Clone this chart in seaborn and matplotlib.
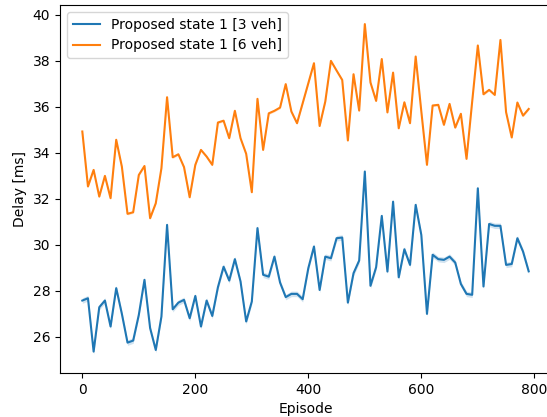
import numpy as np
import pandas as pd
import matplotlib
matplotlib.use("Agg")
import matplotlib.pyplot as plt
import seaborn as sns

episodes = list(range(0, 800, 10))

delay_3veh = [
    27.58, 27.68, 25.36, 27.29, 27.58, 26.45, 28.12, 27.00, 25.75, 25.84,
    26.96, 28.48, 26.38, 25.43, 26.88, 30.87, 27.20, 27.49, 27.61, 26.81,
    27.78, 26.45, 27.58, 26.91, 28.16, 29.05, 28.45, 29.38, 28.41, 26.67,
    27.54, 30.73, 28.70, 28.62, 29.49, 28.36, 27.73, 27.87, 27.87, 27.64,
    28.99, 29.93, 28.04, 29.49, 29.42, 30.29, 30.32, 27.49, 28.77, 29.32,
    33.19, 28.22, 29.03, 31.26, 28.84, 31.88, 28.59, 29.81, 29.13, 31.74,
    30.43, 27.00, 29.57, 29.38, 29.35, 29.49, 29.23, 28.30, 27.87, 27.83,
    32.46, 28.19, 30.91, 30.83, 30.83, 29.13, 29.17, 30.29, 29.71, 28.85,
]

delay_6veh = [
    34.93, 32.54, 33.26, 32.10, 33.00, 32.03, 34.57, 33.40, 31.35, 31.42,
    33.04, 33.43, 31.16, 31.81, 33.33, 36.42, 33.81, 33.94, 33.38, 32.07,
    33.48, 34.13, 33.84, 33.48, 35.32, 35.40, 34.64, 35.83, 34.64, 33.96,
    32.29, 36.35, 34.13, 35.72, 35.83, 35.97, 36.99, 35.80, 35.29, 36.16,
    37.03, 37.90, 35.17, 36.23, 38.00, 37.58, 37.17, 34.54, 37.42, 35.84,
    39.60, 37.06, 36.26, 38.08, 35.76, 37.49, 35.07, 36.20, 35.29, 38.19,
    35.80, 33.48, 36.06, 36.09, 35.22, 36.13, 35.10, 35.70, 33.74, 36.23,
    38.67, 36.55, 36.74, 36.52, 38.91, 35.77, 34.67, 36.19, 35.62, 35.91,
]

# half-width of the shaded spread around each curve
spread_3veh = 0.12
spread_6veh = 0.05

labels = ["Proposed state 1 [3 veh]", "Proposed state 1 [6 veh]"]

df = pd.concat([
    pd.DataFrame({"Episode": episodes, "Delay [ms]": delay_3veh, "run": labels[0]}),
    pd.DataFrame({"Episode": episodes, "Delay [ms]": delay_6veh, "run": labels[1]}),
])

fig = plt.figure(figsize=(5.47, 4.17), dpi=100)
ax = fig.add_axes([60 / 547, 44 / 417, 491 / 547, 368 / 417])

palette = {labels[0]: "#1f77b4", labels[1]: "#ff7f0e"}
sns.lineplot(data=df, x="Episode", y="Delay [ms]", hue="run", palette=palette,
             errorbar=None, linewidth=1.5, ax=ax)

x = np.array(episodes)
for vals, spread, lab in [(delay_3veh, spread_3veh, labels[0]),
                          (delay_6veh, spread_6veh, labels[1])]:
    v = np.array(vals)
    ax.fill_between(x, v - spread, v + spread, color=palette[lab], alpha=0.2, linewidth=0)

ax.set_xlim(-39.5, 829.5)
ax.set_ylim(24.43, 40.43)
ax.set_xticks([0, 200, 400, 600, 800])
ax.set_yticks([26, 28, 30, 32, 34, 36, 38, 40])
ax.set_xlabel("Episode")
ax.set_ylabel("Delay [ms]")
ax.legend(loc="upper left", title=None)

fig.savefig("out.png", dpi=100)
